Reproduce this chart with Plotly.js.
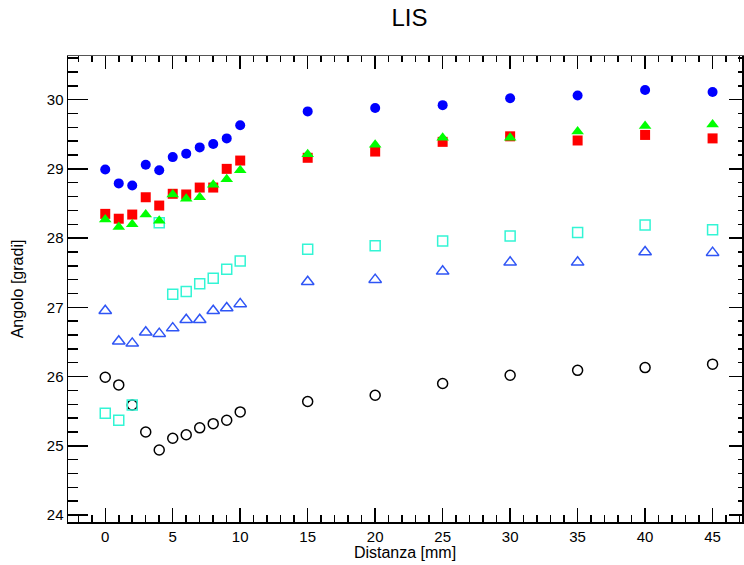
<!DOCTYPE html>
<html>
<head>
<meta charset="utf-8">
<script src="https://cdn.plot.ly/plotly-3.0.1.min.js"></script>
<style>html,body{margin:0;padding:0;background:#fff;}#chart{width:744px;height:565px;}</style>
</head>
<body>
<div id="chart"></div>
<script>
// Distanza [mm]
const distanza = [0, 1, 2, 3, 4, 5, 6, 7, 8, 9, 10, 15, 20, 25, 30, 35, 40, 45];
// cyan open squares have no point at 3 mm
const distanzaCyan = [0, 1, 2, 4, 5, 6, 7, 8, 9, 10, 15, 20, 25, 30, 35, 40, 45];

const blueFilledCircles = [28.99, 28.79, 28.76, 29.06, 28.98, 29.17, 29.22, 29.31, 29.36, 29.44, 29.63, 29.83, 29.88, 29.92, 30.02, 30.06, 30.14, 30.11];
const redFilledSquares  = [28.35, 28.28, 28.34, 28.59, 28.47, 28.64, 28.63, 28.73, 28.73, 29.00, 29.12, 29.16, 29.25, 29.39, 29.47, 29.41, 29.49, 29.44];
const greenFilledTriangles = [28.27, 28.16, 28.20, 28.34, 28.25, 28.63, 28.57, 28.59, 28.77, 28.85, 28.98, 29.21, 29.35, 29.45, 29.45, 29.54, 29.62, 29.64];
const cyanOpenSquares = [25.47, 25.37, 25.59, 28.22, 27.19, 27.23, 27.34, 27.42, 27.55, 27.67, 27.84, 27.89, 27.96, 28.03, 28.08, 28.19, 28.12];
const blueOpenTriangles = [26.95, 26.51, 26.48, 26.64, 26.62, 26.70, 26.82, 26.82, 26.95, 26.99, 27.05, 27.37, 27.40, 27.52, 27.65, 27.65, 27.80, 27.79];
const blackOpenCircles = [25.99, 25.88, 25.59, 25.20, 24.94, 25.11, 25.16, 25.26, 25.32, 25.37, 25.49, 25.64, 25.73, 25.90, 26.02, 26.09, 26.13, 26.18];

const titleText = 'LIS';
const xTitle = 'Distanza [mm]';
const yTitle = 'Angolo [gradi]';

const FONT = 'Liberation Sans, Arial, sans-serif';

const traces = [
  {x: distanza, y: blackOpenCircles, mode: 'markers', type: 'scatter',
   marker: {symbol: 'circle-open', size: 10, color: '#000000', line: {width: 1.5, color: '#000000'}}},
  {x: distanza, y: blueOpenTriangles, mode: 'markers', type: 'scatter',
   marker: {symbol: 'triangle-up-open', size: 11, color: '#2f55f5', line: {width: 1.5, color: '#2f55f5'}}},
  {x: distanzaCyan, y: cyanOpenSquares, mode: 'markers', type: 'scatter',
   marker: {symbol: 'square-open', size: 10, color: '#33f5d5', line: {width: 1.5, color: '#33f5d5'}}},
  {x: distanza, y: blueFilledCircles, mode: 'markers', type: 'scatter',
   marker: {symbol: 'circle', size: 10, color: '#0000ff'}},
  {x: distanza, y: redFilledSquares, mode: 'markers', type: 'scatter',
   marker: {symbol: 'square', size: 10, color: '#ff0000'}},
  {x: distanza, y: greenFilledTriangles, mode: 'markers', type: 'scatter',
   marker: {symbol: 'triangle-up', size: 11, color: '#00ff00'}},
  // empty helper traces so the mirrored frame axes are drawn
  {x: [], y: [], xaxis: 'x2', yaxis: 'y2', mode: 'markers', type: 'scatter', hoverinfo: 'skip'}
];

const xRange = [-2.76, 47.18];
const yRange = [23.9, 30.63];

const layout = {
  width: 744, height: 565,
  margin: {l: 68, r: 2, t: 56, b: 43},
  paper_bgcolor: '#ffffff', plot_bgcolor: '#ffffff',
  showlegend: false,
  font: {family: FONT, color: '#000000', size: 15},
  title: {text: titleText, font: {family: FONT, size: 24, color: '#000000'},
          x: 0.5504, xref: 'container', xanchor: 'center', y: 0.968, yref: 'container', yanchor: 'middle'},
  xaxis: {
    range: xRange, showgrid: false, zeroline: false,
    showline: true, linecolor: '#000000', linewidth: 1.5,
    ticks: 'inside', ticklen: 14, tickwidth: 1.5, tickcolor: '#000000',
    tick0: 0, dtick: 5,
    minor: {ticks: 'inside', ticklen: 7, dtick: 1, tick0: 0, tickwidth: 1.5, tickcolor: '#000000', showgrid: false},
    tickfont: {family: FONT, size: 15, color: '#000000'},
    title: {text: xTitle, font: {family: FONT, size: 16, color: '#000000'}, standoff: 2}
  },
  yaxis: {
    range: yRange, showgrid: false, zeroline: false,
    showline: true, linecolor: '#000000', linewidth: 1.5,
    ticks: 'inside', ticklen: 20, tickwidth: 1.5, tickcolor: '#000000',
    tick0: 24, dtick: 1,
    minor: {ticks: 'inside', ticklen: 10, dtick: 0.2, tick0: 24, tickwidth: 1.5, tickcolor: '#000000', showgrid: false},
    tickfont: {family: FONT, size: 15, color: '#000000'},
    title: {text: yTitle, font: {family: FONT, size: 16, color: '#000000'}, standoff: 19}
  },
  xaxis2: {
    overlaying: 'x', side: 'top', anchor: 'y2', range: xRange,
    showgrid: false, zeroline: false, showticklabels: false,
    showline: true, linecolor: '#555555', linewidth: 1.5,
    ticks: 'inside', ticklen: 13, tickwidth: 1.5, tickcolor: '#000000',
    tick0: 0, dtick: 5,
    minor: {ticks: 'inside', ticklen: 6, dtick: 1, tick0: 0, tickwidth: 1.5, tickcolor: '#000000', showgrid: false}
  },
  yaxis2: {
    overlaying: 'y', side: 'right', anchor: 'x2', range: yRange,
    showgrid: false, zeroline: false, showticklabels: false,
    showline: true, linecolor: '#000000', linewidth: 1.5,
    ticks: 'inside', ticklen: 13, tickwidth: 1.5, tickcolor: '#000000',
    tick0: 24, dtick: 1,
    minor: {ticks: 'inside', ticklen: 4, dtick: 0.2, tick0: 24, tickwidth: 1.5, tickcolor: '#000000', showgrid: false}
  }
};

Plotly.newPlot('chart', traces, layout, {staticPlot: true, displayModeBar: false});
</script>
</body>
</html>
